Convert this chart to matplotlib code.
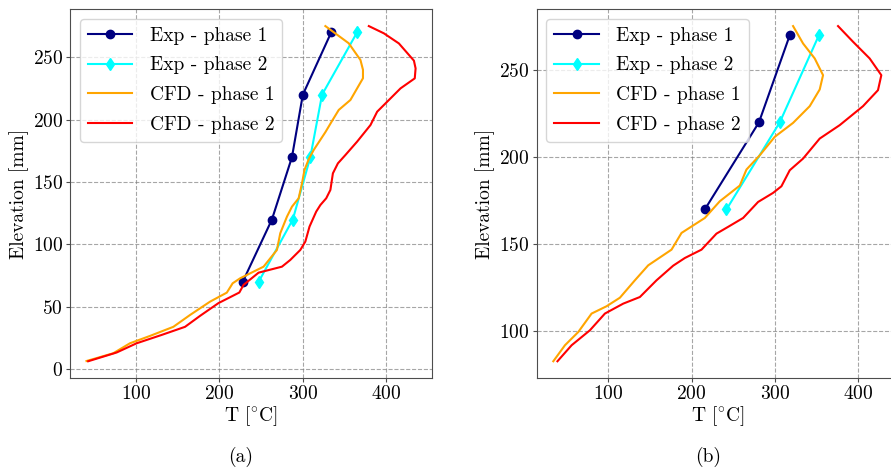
import matplotlib
matplotlib.use('Agg')
import matplotlib.pyplot as plt

plt.rcParams['font.family'] = 'serif'
plt.rcParams['font.serif'] = ['cmr10']
plt.rcParams['mathtext.fontset'] = 'cm'
plt.rcParams['axes.formatter.use_mathtext'] = True
plt.rcParams['font.size'] = 14

# (a) experimental points
exp1_a_T = [228, 263, 287, 300, 334]
exp1_a_z = [70, 120, 170, 220, 270]
exp2_a_T = [247, 288, 309, 323, 365]
exp2_a_z = [70, 120, 170, 220, 270]

# (a) CFD profiles
cfd1_a_T = [41, 73, 93, 117, 145, 165, 189, 209, 216, 225, 253, 269, 273, 281, 287,
            295, 299, 302, 307, 313, 327, 335, 343, 357, 372, 372, 369, 355, 327]
cfd1_a_z = [6.6, 12.8, 20.8, 26.7, 34, 43.5, 54.2, 61.4, 68.9, 72.9, 82.2, 95.6, 109, 122.3, 130.3,
            137, 149, 159.7, 168.2, 175.7, 190, 199, 207.8, 215.8, 233.2, 240, 247.8, 261.2, 275]
cfd2_a_T = [43, 77, 101, 131, 159, 177, 199, 224, 229, 247, 275, 285, 297, 303, 308,
            316, 321, 328, 333, 336, 342, 351, 365, 381, 389, 401, 417, 434, 435, 433, 415, 397, 379]
cfd2_a_z = [6.4, 13.4, 20.8, 27.5, 34, 42.8, 53, 61.5, 67.6, 77.4, 82.2, 87.6, 95.6, 102.3, 114.3,
            126.3, 131.6, 137, 143.7, 157, 165, 171.7, 182.4, 195.7, 206.4, 214.4, 225.1, 233.1, 241.1,
            247.3, 261.1, 269.2, 275]

# (b) experimental points
exp1_b_T = [216, 281, 318]
exp1_b_z = [170, 220, 270]
exp2_b_T = [242, 306, 353]
exp2_b_z = [170, 220, 270]

# (b) CFD profiles
cfd1_b_T = [34, 48, 64, 80, 98, 114, 132, 148, 176, 188, 216, 234, 258, 266, 282,
            300, 322, 342, 354, 358, 348, 334, 322]
cfd1_b_z = [82.8, 92, 99.6, 110.2, 114.4, 119.3, 129.3, 137.9, 146.9, 156.5, 165.1, 174.7, 183.7, 192.9, 201.1,
            211.7, 219.7, 229.3, 238.9, 247.1, 256.7, 265.3, 275.3]
cfd2_b_T = [39, 56, 78, 96, 118, 138, 158, 178, 192, 212, 230, 244, 262, 280, 298,
            308, 318, 334, 354, 378, 406, 424, 428, 414, 394, 376]
cfd2_b_z = [82.8, 92, 100.6, 110.2, 115.9, 119.7, 129.3, 137.7, 142.1, 146.9, 156.1, 160, 165.1, 174.3, 179.5,
            183.3, 192.5, 199.2, 210.7, 218.4, 229.3, 238.5, 247.1, 256.7, 266.3, 275.3]

yticks_a = [0, 50, 100, 150, 200, 250]
yticks_b = [100, 150, 200, 250]
xticks = [100, 200, 300, 400]

fig = plt.figure(figsize=(8.91, 4.73), dpi=100)
ax1 = fig.add_axes([0.0786, 0.2008, 0.4063, 0.7795])
ax2 = fig.add_axes([0.6023, 0.2008, 0.4074, 0.7795])

panels = [
    (ax1, exp1_a_T, exp1_a_z, exp2_a_T, exp2_a_z, cfd1_a_T, cfd1_a_z, cfd2_a_T, cfd2_a_z, yticks_a),
    (ax2, exp1_b_T, exp1_b_z, exp2_b_T, exp2_b_z, cfd1_b_T, cfd1_b_z, cfd2_b_T, cfd2_b_z, yticks_b),
]

for ax, e1x, e1y, e2x, e2y, c1x, c1y, c2x, c2y, yt in panels:
    ax.plot(e1x, e1y, color='navy', marker='o', markersize=6, lw=1.5, label='Exp - phase 1')
    ax.plot(e2x, e2y, color='cyan', marker='d', markersize=6, lw=1.5, label='Exp - phase 2')
    ax.plot(c1x, c1y, color='orange', lw=1.5, label='CFD - phase 1')
    ax.plot(c2x, c2y, color='red', lw=1.5, label='CFD - phase 2')
    ax.grid(True, linestyle='--', color='gray', alpha=0.7)
    ax.set_xticks(xticks)
    ax.set_yticks(yt)
    ax.tick_params(length=3, pad=2, color='0.3')
    for s in ax.spines.values():
        s.set_color('0.3')
    ax.set_xlabel(r'T [$^{\circ}$C]', labelpad=1)
    ax.set_ylabel('Elevation [mm]', labelpad=3)
    ax.legend(loc='upper left', handlelength=2.3, handletextpad=0.9, labelspacing=0.6)

ax2.set_xlim(14, 450)

fig.text(241 / 891, 1 - 457 / 473, '(a)', ha='center', va='center')
fig.text(708 / 891, 1 - 457 / 473, '(b)', ha='center', va='center')

plt.savefig('out.png', dpi=100)
